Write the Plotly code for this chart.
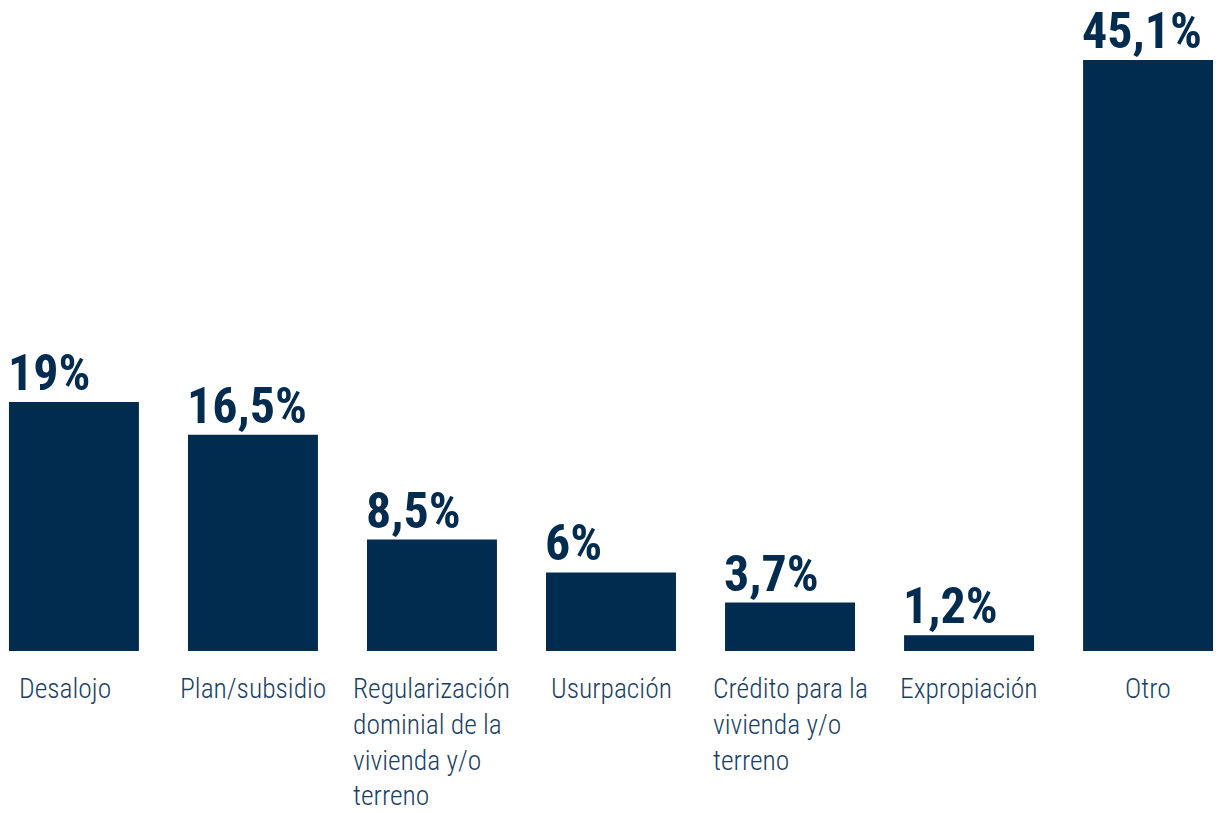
import plotly.graph_objects as go

categories = ["Desalojo", "Plan/subsidio", "Regularización dominial de la vivienda y/o terreno",
              "Usurpación", "Crédito para la vivienda y/o terreno", "Expropiación", "Otro"]
category_labels = ["Desalojo", "Plan/subsidio", "Regularización<br>dominial de la<br>vivienda y/o<br>terreno",
                   "Usurpación", "Crédito para la<br>vivienda y/o<br>terreno", "Expropiación", "Otro"]
values = [19, 16.5, 8.5, 6, 3.7, 1.2, 45.1]
value_labels = ["19%", "16,5%", "8,5%", "6%", "3,7%", "1,2%", "45,1%"]

NAVY = "#022C4F"
LABEL_COLOR = "#1B3F63"
FONT = "Roboto Condensed, Noto Sans Condensed, Liberation Sans Narrow, DejaVu Sans Condensed, sans-serif"
bar_w = 0.726

fig = go.Figure(go.Bar(
    x=list(range(len(categories))), y=values, width=bar_w,
    marker=dict(color=NAVY, line=dict(width=0)),
    hovertext=categories,
))

annotations = []
for i, (v, lab) in enumerate(zip(values, value_labels)):
    annotations.append(dict(
        x=i - bar_w / 2, y=v, xref="x", yref="y", text=lab,
        xanchor="left", yanchor="bottom", showarrow=False, yshift=-2, xshift=-3,
        font=dict(family=FONT, size=50, color=NAVY, weight=700),
    ))
for i, lab in enumerate(category_labels):
    annotations.append(dict(
        x=i, y=0, xref="x", yref="y", text=lab, align="left",
        xanchor="center", yanchor="top", showarrow=False, yshift=-19,
        xshift=-9 if i == 0 else 0,
        font=dict(family=FONT, size=27.5, color=LABEL_COLOR, weight=300),
    ))

fig.update_layout(
    width=1222, height=813,
    margin=dict(l=0, r=0, t=0, b=162),
    plot_bgcolor="white", paper_bgcolor="white",
    showlegend=False,
    xaxis=dict(range=[-0.413, 6.413], showticklabels=False, showgrid=False, zeroline=False,
               showline=False, ticks=""),
    yaxis=dict(range=[0, 49.68], visible=False, showgrid=False, zeroline=False),
    annotations=annotations,
)

fig.write_html("out.html", config={"displayModeBar": False},
               post_script="document.body.style.margin='0';document.body.style.padding='0';document.body.style.overflow='hidden';")
